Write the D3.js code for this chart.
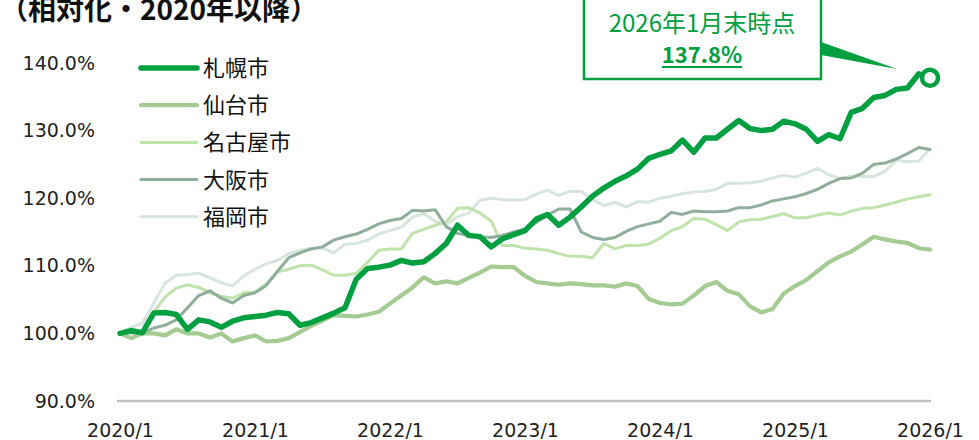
<!DOCTYPE html>
<html><head><meta charset="utf-8">
<script src="https://cdn.jsdelivr.net/npm/d3@7"></script>
<style>
html,body{margin:0;padding:0;background:#fff;}
svg{display:block;}
</style></head>
<body>
<svg id="c" width="979" height="440"></svg>
<script>
const seriesNames = ["札幌市","仙台市","名古屋市","大阪市","福岡市"];
const sapporo = [100,100.4,100.1,103.0,103.1,102.8,100.6,102.0,101.7,100.9,101.8,102.3,102.5,102.7,103.1,102.9,101.2,101.6,102.3,103.0,103.8,108.0,109.6,109.8,110.1,110.8,110.4,110.6,111.8,113.3,116.0,114.5,114.3,112.8,114.0,114.6,115.2,116.9,117.6,116.0,117.2,118.7,120.3,121.5,122.5,123.3,124.3,125.9,126.5,127.0,128.6,126.8,128.9,128.9,130.2,131.5,130.3,130.0,130.2,131.4,131.0,130.2,128.4,129.4,128.8,132.7,133.3,134.9,135.2,136.1,136.3,138.4,137.8];
const sendai = [100,99.3,100,100,99.7,100.6,100,100,99.4,100,98.8,99.3,99.7,98.8,98.9,99.3,100.2,101.1,101.9,102.7,102.6,102.5,102.8,103.2,104.4,105.6,106.8,108.3,107.4,107.7,107.4,108.2,109.0,109.9,109.8,109.8,108.5,107.6,107.4,107.2,107.4,107.3,107.1,107.1,106.9,107.4,107.0,105.1,104.5,104.3,104.4,105.6,107.0,107.6,106.3,105.8,104.0,103.1,103.6,105.9,107.0,107.9,109.2,110.5,111.4,112.1,113.2,114.3,113.9,113.6,113.4,112.6,112.4];
const nagoya = [100,100.7,100.2,103.1,105.4,106.7,107.2,106.8,106.0,105.5,105.2,106.0,106.1,107.3,109.1,109.5,110.0,110.1,109.4,108.6,108.6,108.9,110.5,112.3,112.5,112.5,114.8,115.4,116.0,116.5,118.5,118.6,117.8,116.6,113.0,113.0,112.6,112.5,112.3,111.8,111.4,111.4,111.2,113.3,112.5,113.0,113.0,113.2,114.1,115.2,115.8,117.0,116.9,116.1,115.2,116.5,116.8,116.9,117.3,117.7,117.1,117.1,117.5,117.8,117.5,118.1,118.5,118.6,119.0,119.4,119.9,120.2,120.5];
const osaka = [100,100.1,100,100.8,101.2,102.0,103.8,105.6,106.3,105.2,104.5,105.6,106.0,107.1,109.2,111.2,111.9,112.5,112.8,113.8,114.3,114.7,115.4,116.2,116.7,117.0,118.2,118.1,118.3,115.8,114.8,114.5,114.3,114.2,114.5,115.0,115.4,116.4,117.5,118.4,118.4,115.0,114.2,113.9,114.2,115.1,115.8,116.2,116.6,117.9,117.6,118.1,118.0,118.0,118.1,118.6,118.6,119.0,119.6,119.9,120.2,120.7,121.3,122.2,122.9,123.0,123.7,125.0,125.2,125.8,126.6,127.5,127.2];
const fukuoka = [100,100.9,101.5,104.5,107.4,108.6,108.7,108.9,108.2,107.5,107.0,108.5,109.5,110.3,110.8,111.8,112.3,112.6,112.6,111.9,113.2,113.3,113.8,114.7,115.2,115.7,117.2,117.7,116.6,116.1,117.3,117.8,119.7,120.0,119.8,119.7,119.8,120.6,121.2,120.4,121.0,121.0,119.8,118.9,119.4,118.7,119.5,119.4,120.0,120.3,120.7,120.9,121.0,121.3,122.2,122.2,122.3,122.5,123.0,123.4,123.1,123.7,124.4,123.5,122.9,123.3,123.2,123.2,124.0,125.6,125.4,125.5,127.3];
const yTicks = [90,100,110,120,130,140];
const xTickLabels = ["2020/1","2021/1","2022/1","2023/1","2024/1","2025/1","2026/1"];
const titleText = "（相対化・2020年以降）";
const calloutLine1 = "2026年1月末時点";
const calloutValue = "137.8%";

const months = [];
for (let y = 2020; y <= 2026; y++) for (let m = 1; m <= 12; m++) { if (y === 2026 && m > 1) break; months.push(y + "/" + m); }

const svg = d3.select("#c");
const x = d3.scaleLinear().domain([0, months.length - 1]).range([120, 930]);
const y = d3.scaleLinear().domain([90, 140]).range([401, 63]);

const styles = {
  "札幌市": {color:"#00a040", w:5.5},
  "仙台市": {color:"#a3cb92", w:4.2},
  "名古屋市": {color:"#bfe4ab", w:3},
  "大阪市": {color:"#8fae9b", w:3},
  "福岡市": {color:"#d8e5dd", w:3}
};
const dataMap = {"札幌市":sapporo,"仙台市":sendai,"名古屋市":nagoya,"大阪市":osaka,"福岡市":fukuoka};

// title (cut at the top edge as in the reference)
svg.append("text").attr("x", 0).attr("y", 20)
  .attr("font-family", "'Noto Sans CJK JP', sans-serif").attr("font-weight", 700)
  .attr("font-size", 28).attr("fill", "#111").text(titleText);

const tickFont = "'DejaVu Sans', sans-serif";
// y axis labels (no line)
const yAxis = d3.axisLeft(y).tickValues(yTicks).tickSize(0).tickPadding(0)
  .tickFormat(d => d3.format(".1f")(d) + "%");
const gy = svg.append("g").attr("transform", "translate(95,0)").call(yAxis);
gy.select(".domain").remove();
gy.selectAll("text").attr("font-family", tickFont)
  .attr("font-size", 19).attr("fill", "#222");

// x axis
const xAxis = d3.axisBottom(x).tickValues(xTickLabels.map(l => months.indexOf(l)))
  .tickSize(0).tickPadding(0).tickFormat(i => months[i]);
const gx = svg.append("g").attr("transform", "translate(0,401)").call(xAxis);
gx.select(".domain").attr("stroke", "#c0c0c0").attr("stroke-width", 2.5)
  .attr("d", `M${x(0)-3},0H${x(months.length-1)+1}`);
gx.selectAll("text").attr("font-family", tickFont)
  .attr("font-size", 19).attr("fill", "#222").attr("dy", 0).attr("y", 36);

// lines
const line = d3.line().x((d, i) => x(i)).y(d => y(d));
const drawOrder = ["福岡市","名古屋市","大阪市","仙台市","札幌市"];
drawOrder.forEach(n => {
  svg.append("path").datum(dataMap[n]).attr("d", line)
    .attr("fill", "none").attr("stroke", styles[n].color)
    .attr("stroke-width", styles[n].w).attr("stroke-linejoin", "round").attr("stroke-linecap", "round");
});

// end marker
const last = sapporo.length - 1;
svg.append("circle").attr("cx", x(last)).attr("cy", y(sapporo[last])).attr("r", 8)
  .attr("fill", "#fff").attr("stroke", "#00a040").attr("stroke-width", 4.5);

// legend
const lg = svg.append("g");
seriesNames.forEach((n, i) => {
  const ly = 68 + i * 37.2;
  lg.append("line").attr("x1", 141).attr("x2", 197).attr("y1", ly).attr("y2", ly)
    .attr("stroke", styles[n].color).attr("stroke-width", styles[n].w).attr("stroke-linecap", "round");
  lg.append("text").attr("x", 203).attr("y", ly).attr("dy", "0.36em")
    .attr("font-family", "'Noto Sans CJK JP', sans-serif").attr("font-size", 22)
    .attr("fill", "#111").text(n);
});

// callout
const cg = svg.append("g");
cg.append("path").attr("d", `M821,42L897,69L821,55Z`).attr("fill", "#00a040");
cg.append("rect").attr("x", 584).attr("y", -10).attr("width", 237).attr("height", 89)
  .attr("fill", "#fff").attr("stroke", "#00a040").attr("stroke-width", 2.5);
cg.append("text").attr("x", 702).attr("y", 32).attr("text-anchor", "middle")
  .attr("font-family", "'Noto Sans CJK JP', sans-serif").attr("font-size", 24)
  .attr("fill", "#00a040").text(calloutLine1);
const vt = cg.append("text").attr("x", 702).attr("y", 63).attr("text-anchor", "middle")
  .attr("font-family", "'Noto Sans CJK JP', sans-serif").attr("font-size", 22).attr("font-weight", 700)
  .attr("fill", "#00a040").text(calloutValue);
const bb = vt.node().getBBox();
cg.append("line").attr("x1", bb.x).attr("x2", bb.x + bb.width).attr("y1", 67).attr("y2", 67)
  .attr("stroke", "#00a040").attr("stroke-width", 2);
</script>
</body></html>
